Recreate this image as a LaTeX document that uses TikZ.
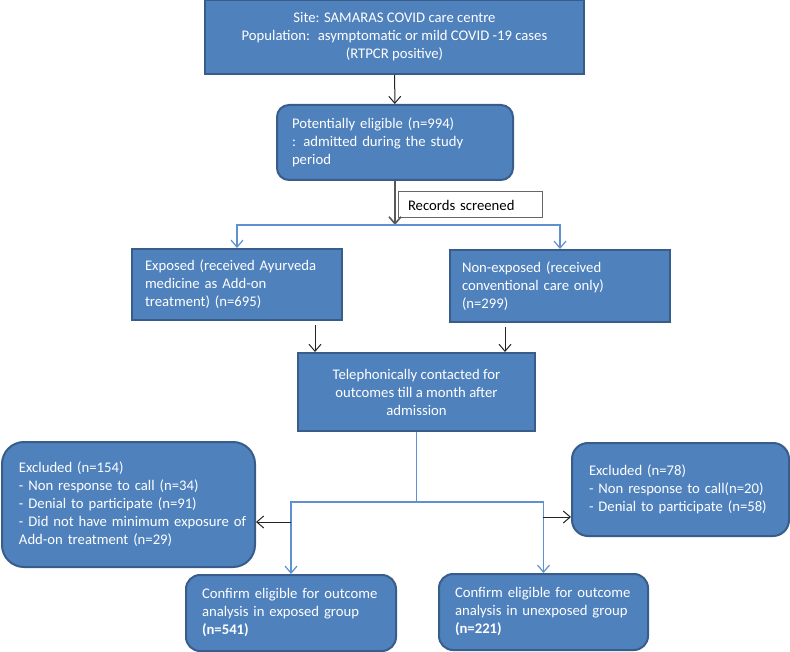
\documentclass[tikz,border=0pt]{standalone}
\usepackage{fontspec}
\setmainfont{Carlito}
\definecolor{boxfill}{RGB}{79,129,189}
\definecolor{boxedge}{RGB}{56,93,138}
\definecolor{flowline}{RGB}{95,145,208}
\definecolor{darkline}{RGB}{35,35,35}
\usetikzlibrary{arrows.meta,positioning,calc}
\tikzset{
  flow/.style={rectangle,draw=boxedge,fill=boxfill,line width=2pt,
               text=white,font=\fontsize{14.7}{18}\selectfont,inner sep=0pt},
  cbox/.style={flow,align=center},
  lbox/.style={flow,align=left,inner xsep=#1},
  lbox/.default=15pt,
  blkarrow/.style={-{Straight Barb[length=7pt,width=12pt]},line width=1pt,darkline},
  bluearrow/.style={-{Straight Barb[length=7pt,width=12pt]},line width=1.2pt,flowline},
  blueline/.style={line width=1.2pt,flowline},
}

\begin{document}
\begin{tikzpicture}[x=1pt,y=-1pt]
    \useasboundingbox (0,0) rectangle (790,652);

    \node[cbox,minimum width=379pt,minimum height=74pt] (site) at (394.5,37)
      {Site: SAMARAS COVID care centre\\Population:~ asymptomatic or mild COVID -19 cases\\(RTPCR positive)};
    \node[lbox,rounded corners=12pt,text width=206pt,minimum height=75pt] (pot) at (395,142.5)
      {Potentially eligible (n=994)\\: admitted during the study\\period};
    \node[lbox=10pt,draw=gray!80!black,fill=white,text=black,line width=1pt,
          text width=124pt,minimum height=26pt] (rec) at (470,205) {Records screened};
    \node[lbox=13pt,text width=184pt,minimum height=71pt] (expo) at (237,284.5)
      {Exposed (received Ayurveda\\medicine as Add-on\\treatment) (n=695)};
    \node[lbox=12pt,text width=196pt,minimum height=72pt] (nonexpo) at (560,286)
      {Non-exposed (received\\conventional care only)\\(n=299)};
    \node[cbox,minimum width=237pt,minimum height=78pt] (tele) at (416.5,392)
      {Telephonically contacted for\\outcomes till a month after\\admission};
    \node[lbox=17pt,rounded corners=22pt,text width=219pt,minimum height=125pt] (excla) at (128.5,504.5)
      {Excluded (n=154)\\- Non response to call (n=34)\\- Denial to participate (n=91)\\\mbox{- Did not have minimum exposure of}\\Add-on treatment (n=29)};
    \node[lbox=17pt,rounded corners=16pt,text width=183pt,minimum height=93pt] (exclb) at (680.5,489.5)
      {Excluded (n=78)\\- Non response to call(n=20)\\- Denial to participate (n=58)\\[6pt]};
    \node[lbox=16pt,rounded corners=14pt,text width=178pt,minimum height=76pt] (confa) at (291,613)
      {Confirm eligible for outcome\\analysis in exposed group\\\textbf{(n=541)}};
    \node[lbox=16pt,rounded corners=14pt,text width=177pt,minimum height=76pt] (confb) at (543.5,612)
      {Confirm eligible for outcome\\analysis in unexposed group\\\textbf{(n=221)}};

    % split points
    \coordinate (split) at (395,225);
    \coordinate (splitb) at (416.5,502);
    \coordinate (ain) at (315,0);
    \coordinate (bin) at (505,0);
    \coordinate (lhit) at (291,522);
    \coordinate (rhit) at (543,517);

    % flow
    \draw[blkarrow] (site) -- (pot);
    \draw[-{Straight Barb[length=7pt,width=12pt]},line width=1.6pt,gray!70!black] (pot) -- (split);
    \foreach \t in {expo,nonexpo}
      \draw[bluearrow] (split) -| (\t);
    \draw[blkarrow,shorten <=4pt] (expo.south -| ain) -- (tele.north -| ain);
    \draw[blkarrow,shorten <=4pt] (nonexpo.south -| bin) -- (tele.north -| bin);
    \draw[blueline] (tele) -- (splitb);
    \foreach \t in {confa,confb}
      \draw[bluearrow] (splitb) -| (\t);
    \draw[blkarrow] (lhit) -- (lhit -| excla.east);
    \draw[blkarrow] (rhit) -- (rhit -| exclb.west);

  \end{tikzpicture}
\end{document}
